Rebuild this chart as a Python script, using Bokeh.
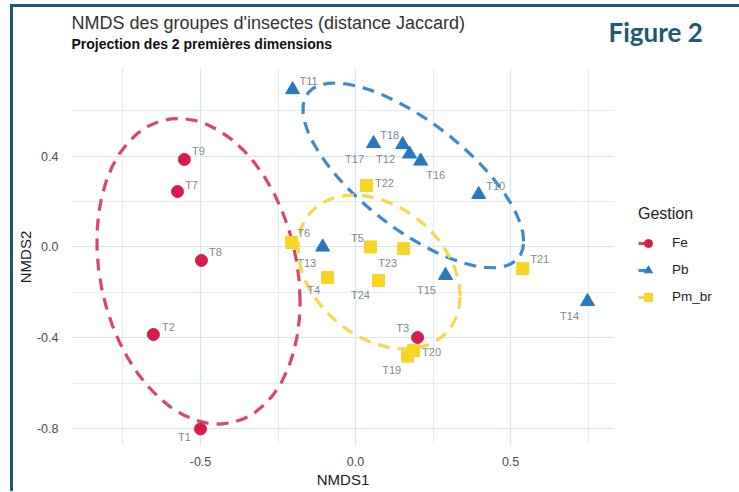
import numpy as np
from bokeh.plotting import figure
from bokeh.models import (ColumnDataSource, Legend, LegendItem, Title,
                          SingleIntervalTicker, PrintfTickFormatter, Range1d)
from bokeh.core.properties import value
from bokeh.embed import file_html
from bokeh.resources import INLINE

# ---------------- data ----------------
groups = ["Fe", "Pb", "Pm_br"]

fe_labels = ["T1", "T2", "T3", "T7", "T8", "T9"]
fe_x = [-0.500, -0.652, 0.200, -0.574, -0.497, -0.552]
fe_y = [-0.800, -0.385, -0.398, 0.244, -0.059, 0.385]

pb_labels = ["T10", "T11", "T12", "T13", "T14", "T15", "T16", "T17", "T18"]
pb_x = [0.397, -0.203, 0.174, -0.106, 0.748, 0.290, 0.210, 0.058, 0.152]
pb_y = [0.231, 0.692, 0.409, 0.000, -0.240, -0.125, 0.378, 0.455, 0.450]

pm_labels = ["T4", "T5", "T6", "T19", "T20", "T21", "T22", "T23", "T24"]
pm_x = [-0.090, 0.048, -0.206, 0.168, 0.187, 0.539, 0.035, 0.155, 0.074]
pm_y = [-0.134, 0.000, 0.020, -0.480, -0.455, -0.095, 0.270, -0.007, -0.147]

# axis limits
x_limits = (-0.916, 0.835)
y_limits = (-0.873, 0.785)

# label nudges (pixels, screen down = positive) -- layout only
fe_dx = [-16, 15, -15, 14, 14, 14]
fe_dy = [8, -8, -9, -7, -8, -8]
pb_dx = [17, 16, -24, -16, -18, -19, 15, -19, -13]
pb_dy = [-8, -9, 5, 16, 14, 15, 14, 15, -10]
pm_dx = [-14, -13, 12, -16, 18, 17, 18, -16, -18]
pm_dy = [13, -9, -9, 14, 2, -10, -3, 14, 15]

# ---------------- styles ----------------
point_colors = {"Fe": "#d81b4a", "Pb": "#2878c0", "Pm_br": "#f8d424"}
ell_colors = {"Fe": "#dc4566", "Pb": "#3d89ca", "Pm_br": "#f6d84a"}
markers = {"Fe": "circle", "Pb": "triangle", "Pm_br": "square"}
msize = {"Fe": 12, "Pb": 14, "Pm_br": 12}
FONT = "Liberation Sans"
TEAL = "#1d5a70"
LEVEL = 0.68


# ---------------- robust ellipse (ggplot2 stat_ellipse, type "t") ----------------
def cov_trob(X, nu=5, maxit=25, tol=0.01):
    n, p = X.shape
    wt = np.ones(n)
    loc = X.mean(axis=0)
    w = np.sqrt(wt)
    Xc = X - loc
    for _ in range(maxit):
        w0 = w
        Xc = X - loc
        A = np.sqrt(w / w.sum())[:, None] * Xc
        _, d, Vt = np.linalg.svd(A, full_matrices=False)
        wX = Xc @ Vt.T @ np.diag(1.0 / d)
        Q = (wX ** 2).sum(axis=1)
        w = (wt * (nu + p)) / (nu + Q)
        loc = (w[:, None] * X).sum(axis=0) / w.sum()
        if np.all(np.abs(w - w0) < tol):
            break
    S = np.sqrt(w)[:, None] * Xc
    cov = S.T @ S / wt.sum()
    return cov, loc


def stat_ellipse(x, y, level=0.95, segments=51):
    X = np.column_stack([x, y])
    n = X.shape[0]
    cov, center = cov_trob(X)
    R = np.linalg.cholesky(cov).T
    dfd = n - 1
    qf = dfd / 2.0 * ((1 - level) ** (-2.0 / dfd) - 1)
    radius = np.sqrt(2 * qf)
    ang = np.arange(segments + 1) * 2 * np.pi / segments
    circ = np.column_stack([np.cos(ang), np.sin(ang)])
    E = center + radius * (circ @ R)
    return E[:, 0], E[:, 1]


data = {
    "Fe": (fe_labels, fe_x, fe_y, fe_dx, fe_dy),
    "Pb": (pb_labels, pb_x, pb_y, pb_dx, pb_dy),
    "Pm_br": (pm_labels, pm_x, pm_y, pm_dx, pm_dy),
}
ellipses = {g: stat_ellipse(data[g][1], data[g][2], level=LEVEL) for g in groups}

# ---------------- figure ----------------
ML, MR, MT, MB = 57, 121, 61, 46
FW, FH = 543, 377

p = figure(frame_width=FW, frame_height=FH, output_backend="svg", toolbar_location=None,
           x_range=Range1d(*x_limits), y_range=Range1d(*y_limits),
           min_border_left=ML, min_border_right=MR, min_border_top=MT, min_border_bottom=MB)

# titles: p.title is the outermost row; added titles stack from the frame outward
p.title.text = "NMDS des groupes d'insectes (distance Jaccard)"
p.title.text_font = FONT
p.title.text_font_size = "18px"
p.title.text_font_style = "normal"
p.title.text_color = "#333333"
p.title.standoff = -8
p.add_layout(Title(text=" ", text_font_size="1px", standoff=13), "above")
p.add_layout(Title(text="Projection des 2 premières dimensions", text_font=FONT,
                   text_font_size="14px", text_font_style="bold", text_color="#111111",
                   standoff=2), "above")
p.add_layout(Title(text="Figure 2", text_font="Lato", text_font_size="26px",
                   text_font_style="bold", text_color=TEAL, align="left",
                   offset=537, standoff=-30), "above")

p.outline_line_color = None
p.background_fill_color = "white"
p.border_fill_color = "white"
p.styles = {"margin-left": "10px", "margin-top": "4px",
            "border-top": f"3px solid {TEAL}", "border-left": f"3px solid {TEAL}",
            "border-right": f"3px solid {TEAL}", "box-sizing": "content-box"}

p.xaxis.ticker = SingleIntervalTicker(interval=0.5, num_minor_ticks=2)
p.yaxis.ticker = SingleIntervalTicker(interval=0.4, num_minor_ticks=2)
for ax in (p.xaxis[0], p.yaxis[0]):
    ax.formatter = PrintfTickFormatter(format="%.1f")
    ax.axis_line_color = None
    ax.major_tick_line_color = None
    ax.minor_tick_line_color = None
    ax.major_tick_in = 0
    ax.major_tick_out = 0
    ax.minor_tick_in = 0
    ax.minor_tick_out = 0
    ax.major_label_text_font = FONT
    ax.major_label_text_font_size = "12.5px"
    ax.major_label_text_color = "#4d4d4d"
    ax.axis_label_text_font = FONT
    ax.axis_label_text_font_size = "15px"
    ax.axis_label_text_font_style = "normal"
    ax.axis_label_text_color = "#1a1a1a"
p.xaxis.axis_label = "NMDS1"
p.yaxis.axis_label = "NMDS2"
p.xaxis.major_label_standoff = 11
p.xaxis.axis_label_standoff = 2
p.yaxis.major_label_standoff = 13
p.yaxis.axis_label_standoff = 0

for gr in (p.xgrid[0], p.ygrid[0]):
    gr.grid_line_color = "#d6e6eb"
    gr.grid_line_width = 1.2
    gr.minor_grid_line_color = "#e1edf0"
    gr.minor_grid_line_width = 1

items = []
for g in groups:
    labels, gx, gy, dx, dy = data[g]
    ex, ey = ellipses[g]
    lr = p.line(ex, ey, line_color=ell_colors[g], line_width=3.2, line_dash="12 8")
    src = ColumnDataSource(dict(x=gx, y=gy, label=labels, dx=dx, dy=dy))
    sr = p.scatter("x", "y", source=src, marker=markers[g], size=msize[g],
                   fill_color=point_colors[g], line_color=point_colors[g])
    p.text("x", "y", text="label", source=src, x_offset="dx", y_offset="dy",
           text_font=value(FONT), text_font_size="11px", text_color="#7d8a94",
           text_align="center", text_baseline="middle")
    items.append(LegendItem(label=g, renderers=[lr, sr]))

legend = Legend(items=items, location="center_left", title="Gestion",
                title_text_font=FONT, title_text_font_size="16px", title_text_font_style="normal",
                title_text_color="#222222", title_standoff=8,
                label_text_font=FONT, label_text_font_size="13.5px", label_text_color="#222222",
                glyph_width=20, glyph_height=24, spacing=3, label_standoff=14,
                padding=0, margin=24, border_line_color=None, background_fill_alpha=0)
p.add_layout(legend, "right")

open("out.html", "w").write(file_html(p, INLINE))
